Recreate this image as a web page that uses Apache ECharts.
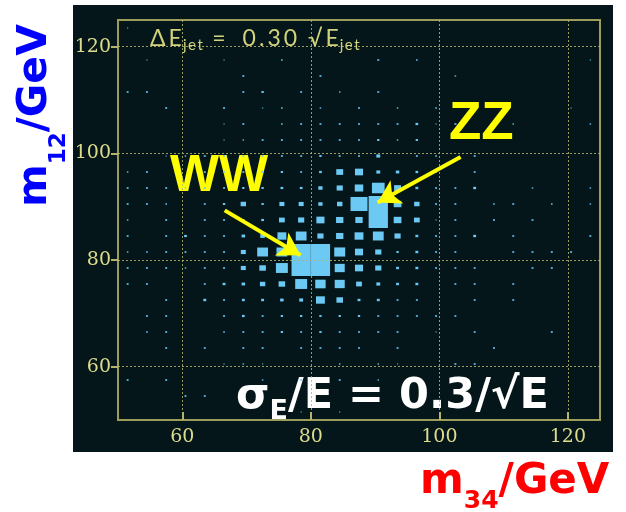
<!DOCTYPE html>
<html>
<head>
<meta charset="utf-8">
<script src="https://cdn.jsdelivr.net/npm/echarts@6/dist/echarts.min.js"></script>
<style>
  html, body { margin: 0; padding: 0; background: #ffffff; }
  #chart { width: 626px; height: 512px; }
</style>
</head>
<body>
<div id="chart"></div>
<script>
// Dijet mass plane, 3 GeV bins from 50 to 125 GeV on both axes
const m34Centers = [51.5, 54.5, 57.5, 60.5, 63.5, 66.5, 69.5, 72.5, 75.5, 78.5, 81.5, 84.5, 87.5,
                    90.5, 93.5, 96.5, 99.5, 102.5, 105.5, 108.5, 111.5, 114.5, 117.5, 120.5, 123.5];
const m12Centers = [123.5, 120.5, 117.5, 114.5, 111.5, 108.5, 105.5, 102.5, 99.5, 96.5, 93.5, 90.5, 87.5,
                    84.5, 81.5, 78.5, 75.5, 72.5, 69.5, 66.5, 63.5, 60.5, 57.5, 54.5, 51.5];
const binWidth = 3;
const axisTicks = [60, 80, 100, 120];

// Cell contents, one row per m12 bin (top to bottom), one column per m34 bin
const cellWeight = [
  [ 6, 0, 0, 0, 0, 0, 0, 0, 0, 0, 0, 0, 0, 0, 0, 0, 0, 0, 0, 0, 0, 0, 0, 0, 0],
  [ 0, 0, 0, 0, 0, 0, 0, 0, 0, 0, 0, 0, 0, 0, 0, 0, 0, 0, 0, 0, 0, 0, 0, 0, 0],
  [ 0, 6, 0, 0, 0, 6, 0, 0, 8, 0, 0, 0, 0,10, 0, 8, 0, 0, 0, 0, 0, 0, 0, 0, 6],
  [ 0, 0, 0, 0, 0, 0,10, 0, 0, 0,10, 0, 0, 0, 0, 0, 0, 8, 0, 0, 0, 0, 0, 0, 0],
  [10,10, 0, 0, 0, 0,10,12, 0,10, 0, 8, 0,10, 0, 0, 0, 0, 0, 0, 0, 0, 0, 0, 0],
  [ 0, 0,10, 0, 0,10, 0, 6, 8, 0, 8, 0,10, 0, 8, 0, 8, 0, 0, 0, 0, 0, 0, 6, 0],
  [ 0, 0, 0, 0, 0, 6,10, 0, 8,10,10,10,10,10,10,14, 6,10, 0, 0, 8, 0, 0, 0, 8],
  [ 0, 0, 0, 0, 0, 6, 8,10,10,10,10,10,10,12, 8,12, 0, 0, 0, 0, 0, 0, 0, 0, 0],
  [ 0, 0, 6, 8,10,10,10,10,10,10,12,10,10,20, 0,10, 8, 0,10, 0, 0, 0, 0, 0, 0],
  [ 8,10, 0, 0,10,10,10,12,12,10,14,36,42,20,18,14, 8, 0,10, 0, 0, 0, 0, 0, 0],
  [10,10,10, 8,10,10,12,12,14,14,22,32,44,66,36,15,10,10,15, 0, 0, 8, 0, 0, 8],
  [10,10, 8, 0,10,12,28,12,26,26,22,28,88,100,40,28,10,10, 0, 8,10, 0, 8, 0, 8],
  [ 8, 0,10, 0,10,10,12,14,30,32,42,38,38,100,40,30, 6,10, 0,10, 0,10, 0, 0, 0],
  [10, 0,10,14,10,10,18,24,46,56,32,38,46,56,32,15,10,10,15, 0,10, 0, 0, 0,10],
  [ 8, 8,10,10,10,10,26,56,56,100,100,57,42,32,12,15,10,10, 0, 0,10,10,10,10, 0],
  [10,10,10, 8,10,10,26,34,62,100,100,52,42,32,15,15,10,10,10, 0, 0,10,10, 0, 0],
  [10,10, 0, 0,10,15,18,28,34,62,54,52,30,20,15,15, 0,10,10, 0,10, 0, 0, 0, 0],
  [ 0, 0,10, 0,15,10,15,15,18,20,46,34,15,15,10,10, 0, 0,10, 0,10, 0, 0, 0, 0],
  [ 0,10,10, 0, 0,10,14,10,12,12,12,12,12,10,10,10,10,10, 0, 0, 0, 0, 0, 0, 0],
  [ 0, 8,10, 0, 0, 8,10,10,12,10,12,10,10,10,10, 0, 6, 0,10, 0, 0, 0,10, 0, 0],
  [ 0, 0,10, 0,10, 0,10,10, 0,10,10,10,10, 0,10, 0, 0, 0, 0,10, 0, 0, 0, 0, 0],
  [ 0, 0, 0, 0, 0, 6, 8, 6, 0, 0, 0, 8, 0, 8, 6, 0, 0,10,10, 0, 0, 0, 0, 0, 0],
  [10, 0,10, 0, 0, 0, 0, 8, 0,10, 0,10, 0, 8, 0, 0, 0, 0, 0, 0, 0, 0, 0, 0, 0],
  [ 0, 0, 0,10,10, 0, 0, 0, 0, 0, 0, 0, 0, 0, 0, 0, 0, 0, 0, 0, 0, 0, 0, 0, 0],
  [ 0, 0, 0, 0, 0, 0, 0, 0, 0, 6, 0, 6, 0, 0, 0, 0, 0, 0, 0, 0, 0, 0, 0, 0, 0]
];

// Arrows from the peak labels to the peaks, in (m34, m12)
const wwArrow = [[66.6, 89.3], [78.4, 80.9]];
const zzArrow = [[103.3, 99.3], [90.4, 90.8]];

const cells = [];
let maxWeight = 0;
cellWeight.forEach((row, j) => row.forEach((w, i) => {
  if (w > 0) cells.push([m34Centers[i], m12Centers[j], w]);
  maxWeight = Math.max(maxWeight, w);
}));

const frameColor = '#9c9c5c';
const gridColor = '#b4b46a';
const tickTextColor = '#dcdc8c';
const titleColor = '#d2d27a';
const boxColor = '#6cc9f3';

// Text runs with subscripts: each piece sits on a shared baseline, dy lowers a piece,
// gap is extra space before a piece, track is extra space after each of its characters
const measureCtx = document.createElement('canvas').getContext('2d');
function fontString(p) {
  return (p.weight || 'normal') + ' ' + p.size + 'px "' + p.family + '"';
}
function textRun(pieces, originX, originY, rotation) {
  let x = 0;
  const children = [];
  pieces.forEach(p => {
    const chars = p.track ? Array.from(p.text) : [p.text];
    x += (p.gap || 0);
    measureCtx.font = fontString(p);
    chars.forEach(ch => {
      children.push({
        type: 'text',
        x: x,
        y: (p.dy || 0) - p.size * 0.35,
        style: {
          text: ch, fontSize: p.size, fontWeight: p.weight || 'normal', fontFamily: p.family,
          fill: p.color, align: 'left', verticalAlign: 'middle'
        }
      });
      x += measureCtx.measureText(ch).width + (p.track || 0);
    });
  });
  return { type: 'group', x: originX, y: originY, rotation: rotation || 0, silent: true, children: children };
}

const chart = echarts.init(document.getElementById('chart'), null, { renderer: 'canvas' });

const axisCommon = {
  type: 'value',
  min: 50,
  max: 125,
  z: 3,
  axisLine: { show: false },
  splitLine: { show: true, lineStyle: { color: gridColor, width: 1, type: [2, 2], opacity: 0.85 } },
  axisLabel: {
    customValues: axisTicks,
    color: tickTextColor,
    fontFamily: 'DejaVu Serif',
    fontSize: 19
  }
};

const titleMain = { size: 23, family: 'Lato', color: titleColor, track: 3 };
const titleSub = { size: 15, family: 'Lato', color: titleColor, track: 1.5, dy: 4 };

chart.setOption({
  animation: false,
  grid: {
    left: 118, top: 20, width: 482, height: 400,
    show: true, borderColor: frameColor, borderWidth: 2, backgroundColor: 'transparent'
  },
  xAxis: Object.assign({}, axisCommon, {
    axisTick: { show: true, inside: true, length: 8, customValues: axisTicks, lineStyle: { color: gridColor, width: 2 } },
    axisLabel: Object.assign({}, axisCommon.axisLabel, { margin: 8 })
  }),
  yAxis: Object.assign({}, axisCommon, {
    axisTick: { show: true, inside: false, length: 7, customValues: axisTicks, lineStyle: { color: gridColor, width: 2 } },
    axisLabel: Object.assign({}, axisCommon.axisLabel, { margin: 7 })
  }),
  graphic: [
    { type: 'rect', z: -100, silent: true, shape: { x: 73, y: 5, width: 540, height: 447 }, style: { fill: '#04161a' } },
    textRun([
      Object.assign({}, titleMain, { text: 'ΔE' }),
      Object.assign({}, titleSub, { text: 'jet', gap: -2 }),
      Object.assign({}, titleMain, { text: '=', gap: 8 }),
      Object.assign({}, titleMain, { text: '0.30', gap: 14 }),
      Object.assign({}, titleMain, { text: '√E', gap: 8 }),
      Object.assign({}, titleSub, { text: 'jet', gap: -2 })
    ], 150, 46.5),
    {
      type: 'text', x: 170, y: 177, silent: true,
      style: { text: 'WW', align: 'left', verticalAlign: 'middle', fontSize: 52, fontWeight: 'bold', fontFamily: 'Liberation Sans', fill: '#ffff00' }
    },
    {
      type: 'text', x: 449, y: 124, silent: true,
      style: { text: 'ZZ', align: 'left', verticalAlign: 'middle', fontSize: 53, fontWeight: 'bold', fontFamily: 'Liberation Sans', fill: '#ffff00' }
    },
    textRun([
      { text: 'σ', size: 43, weight: 'bold', family: 'DejaVu Sans', color: '#ffffff' },
      { text: 'E', size: 27, weight: 'bold', family: 'DejaVu Sans', color: '#ffffff', dy: 10 },
      { text: '/E = 0.3/√E', size: 43, weight: 'bold', family: 'DejaVu Sans', color: '#ffffff' }
    ], 236, 411.5),
    textRun([
      { text: 'm', size: 41, weight: 'bold', family: 'DejaVu Sans', color: '#0000ff' },
      { text: '12', size: 23, weight: 'bold', family: 'DejaVu Sans', color: '#0000ff', dy: 17 },
      { text: '/GeV', size: 41, weight: 'bold', family: 'DejaVu Sans', color: '#0000ff' }
    ], 50, 207, Math.PI / 2),
    textRun([
      { text: 'm', size: 42, weight: 'bold', family: 'DejaVu Sans', color: '#ff0000' },
      { text: '34', size: 25, weight: 'bold', family: 'DejaVu Sans', color: '#ff0000', dy: 13 },
      { text: '/GeV', size: 42, weight: 'bold', family: 'DejaVu Sans', color: '#ff0000' }
    ], 420, 497)
  ],
  series: [{
    type: 'custom',
    coordinateSystem: 'cartesian2d',
    z: 2,
    data: cells,
    renderItem: function (params, api) {
      const c = api.coord([api.value(0), api.value(1)]);
      const s = api.size([binWidth, binWidth]);
      const f = api.value(2) / maxWeight;
      const w = s[0] * f, h = s[1] * f;
      return {
        type: 'rect',
        shape: { x: c[0] - w / 2, y: c[1] - h / 2, width: w, height: h },
        style: { fill: boxColor }
      };
    },
    markLine: {
      silent: true,
      symbol: ['none', 'arrow'],
      symbolSize: [20, 22],
      label: { show: false },
      lineStyle: { color: '#ffff00', width: 4, type: 'solid', opacity: 1 },
      data: [
        [{ coord: wwArrow[0] }, { coord: wwArrow[1] }],
        [{ coord: zzArrow[0] }, { coord: zzArrow[1] }]
      ]
    }
  }]
});
</script>
</body>
</html>
